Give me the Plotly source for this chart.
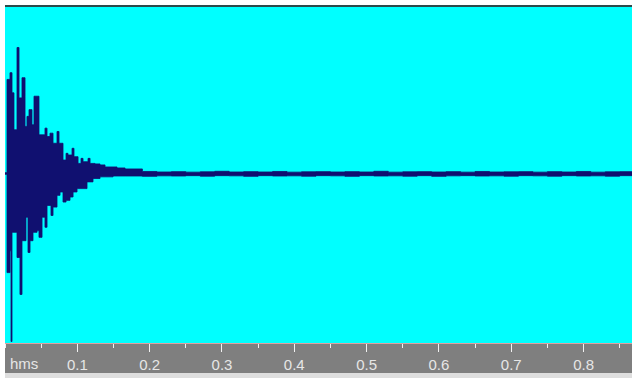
import plotly.graph_objects as go

# ---- data (time in s, normalised amplitude) ----
attack_t = [0.0, 0.0028, 0.0069, 0.0083, 0.0097, 0.0124, 0.0166, 0.0194, 0.0207, 0.0235,
            0.0277, 0.0290, 0.0304, 0.0318, 0.0332, 0.0346, 0.0373, 0.0387, 0.0401, 0.0443,
            0.0470, 0.0512, 0.0553, 0.0581, 0.0622, 0.0636, 0.0664, 0.0719, 0.0747, 0.0761,
            0.0802, 0.0844, 0.0871, 0.0899, 0.0927, 0.0941, 0.0954, 0.0996, 0.1010, 0.1051,
            0.1079, 0.1134, 0.1148, 0.1176, 0.1217, 0.1245, 0.1314, 0.1383, 0.1494, 0.1549,
            0.1660]
attack_upper = [0.005, 0.56, 0.60, 0.60, 0.48, 0.26, 0.75, 0.45, 0.45, 0.57,
                0.28, 0.28, 0.34, 0.34, 0.38, 0.38, 0.29, 0.29, 0.46, 0.46,
                0.23, 0.23, 0.27, 0.22, 0.24, 0.24, 0.18, 0.25, 0.18, 0.18,
                0.08, 0.12, 0.11, 0.11, 0.15, 0.15, 0.10, 0.10, 0.06, 0.09,
                0.07, 0.07, 0.09, 0.06, 0.06, 0.057, 0.051, 0.039, 0.039, 0.033,
                0.027]
attack_lower = [-0.005, -0.59, -0.46, -1.0, -0.35, -0.35, -0.50, -0.50, -0.72, -0.40,
                -0.40, -0.26, -0.26, -0.47, -0.47, -0.40, -0.40, -0.35, -0.35, -0.34,
                -0.38, -0.26, -0.32, -0.19, -0.19, -0.25, -0.20, -0.13, -0.13, -0.11,
                -0.17, -0.16, -0.16, -0.14, -0.14, -0.11, -0.11, -0.09, -0.09, -0.09,
                -0.09, -0.05, -0.05, -0.05, -0.03, -0.03, -0.02, -0.02, -0.015, -0.015,
                -0.015]

tail_t = [0.19, 0.21, 0.23, 0.25, 0.27, 0.29, 0.31, 0.33, 0.35, 0.37, 0.39, 0.41,
          0.43, 0.45, 0.47, 0.49, 0.51, 0.53, 0.55, 0.57, 0.59, 0.61, 0.63, 0.65,
          0.67, 0.69, 0.71, 0.73, 0.75, 0.77, 0.79, 0.81, 0.83, 0.85, 0.87]
tail_upper = [0.012, 0.009, 0.011, 0.008, 0.010, 0.013, 0.009, 0.011, 0.009, 0.012, 0.008, 0.010,
              0.011, 0.009, 0.011, 0.009, 0.013, 0.008, 0.010, 0.011, 0.009, 0.011, 0.008, 0.012,
              0.009, 0.010, 0.011, 0.008, 0.011, 0.009, 0.012, 0.008, 0.010, 0.011, 0.009]
tail_lower = [-0.017, -0.014, -0.015, -0.013, -0.016, -0.013, -0.014, -0.017, -0.013, -0.015, -0.014, -0.016,
              -0.013, -0.014, -0.017, -0.013, -0.015, -0.014, -0.016, -0.013, -0.017, -0.014, -0.013, -0.015,
              -0.014, -0.016, -0.013, -0.014, -0.016, -0.013, -0.015, -0.014, -0.016, -0.013, -0.014]

tick_vals = [0.1, 0.2, 0.3, 0.4, 0.5, 0.6, 0.7, 0.8]
tick_text = ["0.1", "0.2", "0.3", "0.4", "0.5", "0.6", "0.7", "0.8"]
unit_label = "hms"

t = attack_t + tail_t
upper = attack_upper + tail_upper
lower = attack_lower + tail_lower

WAVE = "#101070"
CYAN = "#00FFFF"
FONT = "Liberation Sans, Arial, sans-serif"

fig = go.Figure()
fig.add_trace(go.Scatter(x=t, y=upper, mode="lines", line=dict(color=WAVE, width=0.8, shape="hv"),
                         hoverinfo="skip", showlegend=False))
fig.add_trace(go.Scatter(x=t, y=lower, mode="lines", line=dict(color=WAVE, width=0.8, shape="hv"),
                         fill="tonexty", fillcolor=WAVE, hoverinfo="skip", showlegend=False))

H = 336.0  # plot height in px
fig.update_layout(
    width=632, height=378,
    margin=dict(l=5, r=0, t=7, b=35, autoexpand=False),
    paper_bgcolor="white", plot_bgcolor=CYAN,
    xaxis=dict(range=[0, 0.867], showgrid=False, zeroline=False, showline=False,
               ticks="outside", ticklen=8, tickwidth=1, tickcolor="#f2f2f2",
               tickvals=tick_vals, ticktext=tick_text,
               tickfont=dict(family=FONT, size=15, color="#e6e6e6"),
               ticklabelstandoff=0, fixedrange=True,
               minor=dict(ticks="outside", ticklen=4, tickwidth=1, tickcolor="#f2f2f2",
                          tick0=0, dtick=0.05, showgrid=False)),
    yaxis=dict(range=[-1.009, 0.991], visible=False, fixedrange=True),
    shapes=[
        dict(type="rect", xref="paper", yref="paper", x0=0, x1=1, y0=-30 / H, y1=0,
             fillcolor="#7f7f7f", line=dict(width=0), layer="below"),
        dict(type="rect", xref="paper", yref="paper", x0=0, x1=1, y0=-35 / H, y1=-30 / H,
             fillcolor="#dedede", line=dict(width=0), layer="below"),
        dict(type="line", xref="paper", yref="paper", x0=0, x1=1, y0=-0.5 / H, y1=-0.5 / H,
             line=dict(color="#e0a0a0", width=1), layer="below"),
        dict(type="rect", xref="paper", yref="paper", x0=0, x1=1, y0=1, y1=1 + 2 / H,
             fillcolor="#2b4b4b", line=dict(width=0), layer="above"),
    ],
    annotations=[
        dict(text=unit_label, xref="paper", yref="paper", x=3 / 627, y=-20 / H,
             xanchor="left", yanchor="middle", showarrow=False,
             font=dict(family=FONT, size=15, color="#e6e6e6")),
    ],
)

fig.write_html("out.html", config={"displayModeBar": False, "staticPlot": True},
               post_script="document.body.style.margin='0';document.body.style.padding='0';"
                           "document.documentElement.style.overflow='hidden';")
